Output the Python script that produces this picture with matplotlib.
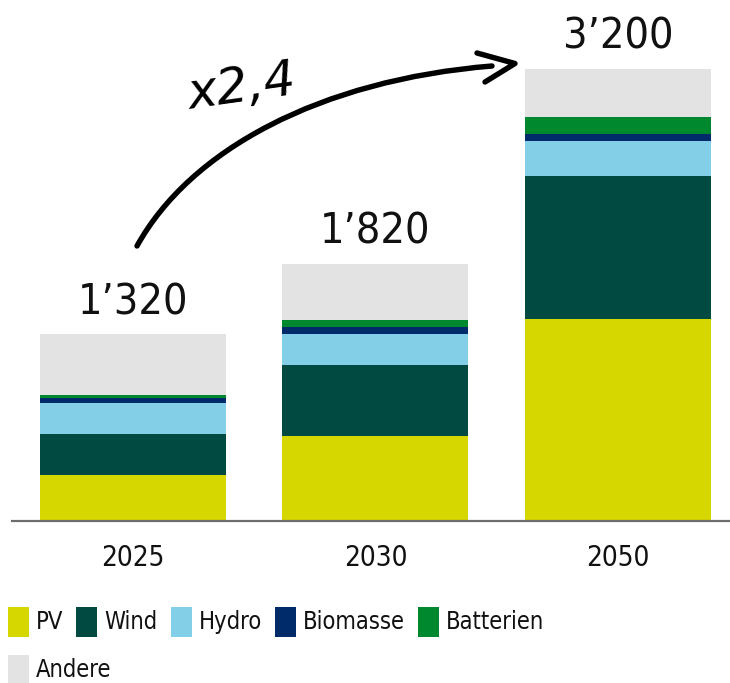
import matplotlib
matplotlib.use("Agg")
import matplotlib.pyplot as plt
from matplotlib.path import Path
from matplotlib.patches import PathPatch, Rectangle
from matplotlib.transforms import Affine2D
import numpy as np

# Installed capacity by technology (MW)
years = ["2025", "2030", "2050"]
series = ["PV", "Wind", "Hydro", "Biomasse", "Batterien", "Andere"]
pv = [320, 600, 1430]
wind = [290, 500, 1010]
hydro = [220, 225, 250]
biomasse = [40, 45, 50]
batterien = [20, 50, 120]
andere = [430, 400, 340]
totals = [1320, 1820, 3200]
total_labels = ["1’320", "1’820", "3’200"]
growth_label = "x2,4"

colors = {
    "PV": "#d7d700",
    "Wind": "#004a42",
    "Hydro": "#84cfe8",
    "Biomasse": "#002b6b",
    "Batterien": "#00882f",
    "Andere": "#e3e3e3",
}

plt.rcParams["font.family"] = ["DejaVu Sans"]

W, H = 730, 683
fig = plt.figure(figsize=(W / 100, H / 100), dpi=100)

# pixel -> figure fraction (origin top-left)
px = Affine2D().scale(1 / W, -1 / H).translate(0, 1) + fig.transFigure

ax = fig.add_axes([12 / W, (H - 520.5) / H, (W - 12) / W, 520.5 / H])

x = np.arange(len(years))
width = 0.767
values = [pv, wind, hydro, biomasse, batterien, andere]
bottom = np.zeros(len(years))
for name, vals in zip(series, values):
    ax.bar(x, vals, width, bottom=bottom, color=colors[name], linewidth=0, label=name)
    bottom += np.array(vals)

for xi, t, lab in zip(x, totals, total_labels):
    ax.annotate(lab, (xi, t), xytext=(0, 14.4), textcoords="offset points",
                ha="center", va="baseline", fontsize=31, color="#111111",
                fontstretch="condensed")

ax.set_xlim(-0.499, 2.462)
ax.set_ylim(0, 3689)
ax.set_xticks(x)
ax.set_xticklabels(years, fontsize=20, color="#111111", fontstretch="condensed")
ax.tick_params(axis="x", length=0, pad=17)
ax.set_yticks([])
for s in ["top", "left", "right"]:
    ax.spines[s].set_visible(False)
ax.spines["bottom"].set_color("#6e6e6e")
ax.spines["bottom"].set_linewidth(1.6)
ax.set_facecolor("none")

# Hand-drawn growth arrow
curve = Path(
    [(137, 246), (190, 150), (320, 80), (492, 66)],
    [Path.MOVETO, Path.CURVE4, Path.CURVE4, Path.CURVE4],
)
fig.patches.append(PathPatch(curve, transform=px, fill=False, lw=3.9,
                             ec="black", capstyle="round", joinstyle="round"))
head = Path([(477, 53), (515, 63.5), (485, 82)],
            [Path.MOVETO, Path.LINETO, Path.LINETO])
fig.patches.append(PathPatch(head, transform=px, fill=False, lw=3.9,
                             ec="black", capstyle="round", joinstyle="round"))
fig.text(242 / W, 1 - 88 / H, growth_label, ha="center", va="center",
         fontsize=36, style="italic", rotation=8, color="black")

# Legend: two rows, entries laid out left to right by their text width
legend_rows = [["PV", "Wind", "Hydro", "Biomasse", "Batterien"], ["Andere"]]
row_tops = [607, 655]
renderer = fig.canvas.get_renderer()
for row, top in zip(legend_rows, row_tops):
    x0 = 8
    for name in row:
        fig.patches.append(Rectangle((x0, top), 21, 30, transform=px,
                                     fc=colors[name], ec="none"))
        t = fig.text((x0 + 28) / W, 1 - (top + 15) / H, name, ha="left",
                     va="center", fontsize=17, color="#111111",
                     fontstretch="condensed")
        tw = t.get_window_extent(renderer).width
        x0 = x0 + 28 + tw + 13

fig.savefig("out.png", dpi=100)
